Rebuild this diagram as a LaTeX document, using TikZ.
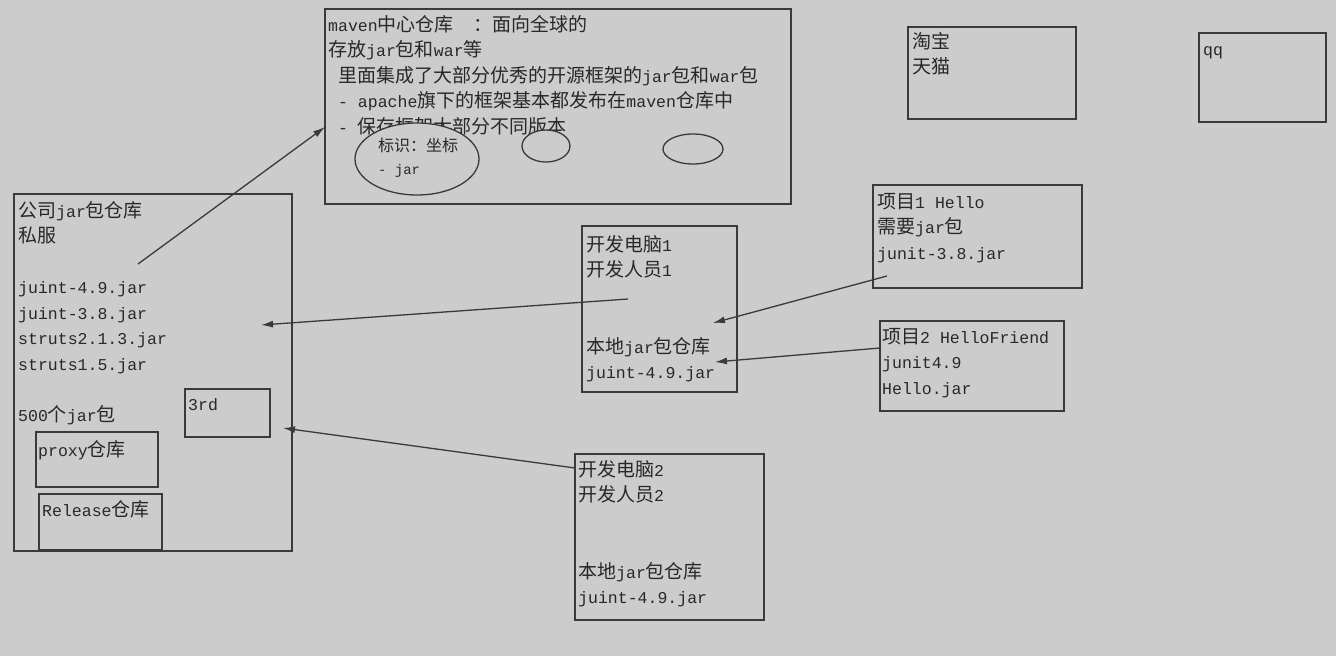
\documentclass[tikz,border=0pt]{standalone}
\usepackage{fontspec}
\setmainfont{Liberation Mono}[Scale=0.87]
\newfontfamily\cjk{Noto Sans CJK SC}
\definecolor{paper}{RGB}{204, 204, 204}
\definecolor{ink}{RGB}{40, 40, 40}
\definecolor{edge}{RGB}{58, 58, 58}
\usetikzlibrary{shapes.geometric, arrows.meta, positioning}

% Han characters and the wide colon switch to the CJK family by themselves
\newcount\cjkidx
\newXeTeXintercharclass\cjkclass
\cjkidx="4E00
\loop
  \XeTeXcharclass\cjkidx=\cjkclass
  \advance\cjkidx by 1
\ifnum\cjkidx<"A000 \repeat
\XeTeXcharclass"FF1A=\cjkclass
\XeTeXinterchartoks 0 \cjkclass={\cjk}
\XeTeXinterchartoks 4095 \cjkclass={\cjk}
\XeTeXinterchartoks \cjkclass 0={\rmfamily}
\XeTeXinterchartoks \cjkclass 4095={\rmfamily}
\XeTeXinterchartokenstate=1

\begin{document}
\begin{tikzpicture}[
        x=1pt, y=-1pt,
        every node/.style={font=\fontsize{19}{25.5}\selectfont, text=ink},
        box/.style 2 args={draw=edge, line width=1.4pt, anchor=north west, inner sep=0pt, outer sep=0pt, minimum width=#1, minimum height=#2},
        txt/.style={anchor=north west, inner sep=0pt, align=left},
        oval/.style 2 args={ellipse, draw=edge, line width=1.3pt, fill=paper, inner sep=0pt, minimum width=#1, minimum height=#2},
        arr/.style={-{Latex[length=12pt, width=7pt]}, line width=1.3pt, edge}
    ]
        \fill[paper] (0,0) rectangle (1336,656);

        % Zentrales Repository + Plattformen oben
        \node[box={466}{195}] (maven)  at (325, 9)  {};
        \node[box={168}{92}]  (taobao) at (908, 27) {};
        \node[box={127}{89}]  (qq)     at (1199, 33) {};
        \node[txt, below right=6pt and 3pt of maven.north west] (maventxt) {maven中心仓库~~：面向全球的\\存放jar包和war等\\~里面集成了大部分优秀的开源框架的jar包和war包\\~- apache旗下的框架基本都发布在maven仓库中\\~- 保存框架大部分不同版本};
        \node[txt, below right=5pt and 4pt of taobao.north west] (taobaotxt) {淘宝\\天猫};
        \node[txt, below right=13pt and 4pt of qq.north west] (qqtxt) {qq};

        \node[oval={124}{72}] (gav) at (417, 159) {};
        \node[oval={48}{32}]  (ovb) at (546, 146) {};
        \node[oval={60}{30}]  (ovc) at (693, 149) {};
        \node[txt, font=\fontsize{16}{23}\selectfont] (gavtxt) at (378, 138) {标识：坐标\\- jar};

        % Firmen-Repository (Nexus)
        \node[box={278}{357}] (company) at (14, 194)  {};
        \node[box={85}{48}]   (third)   at (185, 389) {};
        \node[box={122}{55}]  (proxy)   at (36, 432)  {};
        \node[box={123}{56}]  (release) at (39, 494)  {};
        \node[txt, below right=7pt and 4pt of company.north west] (companytxt) {公司jar包仓库\\私服\\[25.5pt]juint-4.9.jar\\juint-3.8.jar\\struts2.1.3.jar\\struts1.5.jar\\[25.5pt]500个jar包};
        \node[txt, below right=9pt and 3pt of third.north west] (thirdtxt) {3rd};
        \node[txt, below right=8pt and 2pt of proxy.north west] (proxytxt) {proxy仓库};
        \node[txt, below right=6pt and 3pt of release.north west] (releasetxt) {Release仓库};

        % Entwicklerrechner + Projekte
        \node[box={155}{166}] (dev1)  at (582, 226) {};
        \node[box={189}{166}] (dev2)  at (575, 454) {};
        \node[box={209}{103}] (proj1) at (873, 185) {};
        \node[box={184}{90}]  (proj2) at (880, 321) {};
        \node[txt, below right=9pt and 4pt of dev1.north west] (dev1txt) {开发电脑1\\开发人员1\\[51pt]本地jar包仓库\\juint-4.9.jar};
        \node[txt, below right=6pt and 3pt of dev2.north west] (dev2txt) {开发电脑2\\开发人员2\\[51pt]本地jar包仓库\\juint-4.9.jar};
        \node[txt, below right=8pt and 4pt of proj1.north west] (proj1txt) {项目1 Hello\\需要jar包\\junit-3.8.jar};
        \node[txt, below right=7pt and 2pt of proj2.north west] (proj2txt) {项目2 HelloFriend\\junit4.9\\Hello.jar};

        % Pfeilenden
        \coordinate (c-out)  at (138, 264);
        \coordinate (m-in)   at (325, 127);
        \coordinate (d1-out) at (628, 299);
        \coordinate (c-in1)  at (261, 325);
        \coordinate (p1-out) at (887, 276);
        \coordinate (d1-in1) at (713, 323);
        \coordinate (p2-out) at (880, 348);
        \coordinate (d1-in2) at (715, 362);
        \coordinate (d2-out) at (575, 468);
        \coordinate (c-in2)  at (283, 428);

        \draw[arr] (c-out) -- (m-in);
        \draw[arr] (d1-out) -- (c-in1);
        \draw[arr] (p1-out) -- (d1-in1);
        \draw[arr] (p2-out) -- (d1-in2);
        \draw[arr] (d2-out) -- (c-in2);
    \end{tikzpicture}
\end{document}
